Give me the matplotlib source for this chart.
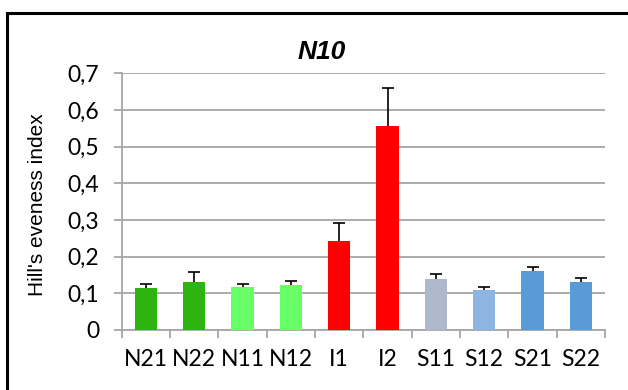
import matplotlib
matplotlib.use("Agg")
import matplotlib.pyplot as plt
from matplotlib.patches import Rectangle

# data
samples = ["N21", "N22", "N11", "N12", "I1", "I2", "S11", "S12", "S21", "S22"]
evenness = [0.115, 0.132, 0.117, 0.123, 0.244, 0.555, 0.139, 0.109, 0.161, 0.132]
err_up = [0.011, 0.026, 0.008, 0.010, 0.049, 0.104, 0.013, 0.009, 0.011, 0.009]
bar_colors = ["#2db40f", "#2db40f", "#66ff66", "#66ff66", "#ff0000", "#ff0000",
              "#adb9ca", "#8eb4e3", "#5b9bd5", "#5b9bd5"]
yticks = [0, 0.1, 0.2, 0.3, 0.4, 0.5, 0.6, 0.7]
ytick_labels = ["0", "0,1", "0,2", "0,3", "0,4", "0,5", "0,6", "0,7"]

W, H = 628, 390
fig = plt.figure(figsize=(W / 100, H / 100), dpi=100)
ax = fig.add_axes([121.7 / W, 1 - 330 / H, (605 - 121.7) / W, (330 - 73.3) / H])

x = list(range(len(samples)))
ax.bar(x, evenness, width=0.46, color=bar_colors, zorder=3)
eb = ax.errorbar(x, evenness, yerr=[[0] * len(err_up), err_up], fmt="none",
                 ecolor="black", elinewidth=1.2, capsize=4.5, capthick=1.2, zorder=4)
# only the upper whisker has a cap
eb[1][0].set_visible(False)

ax.set_xlim(-0.5, len(samples) - 0.5)
ax.set_ylim(0, 0.7)
ax.set_yticks(yticks)
ax.set_yticklabels(ytick_labels, family="Lato", fontsize=16.5)
ax.yaxis.grid(True, color="#a6a6a6", linewidth=1.3, zorder=0)

# x ticks sit on category boundaries, labels at centres
ax.set_xticks([i - 0.5 for i in range(len(samples) + 1)])
ax.set_xticklabels([])
ax.set_xticks(x, minor=True)
ax.set_xticklabels(samples, minor=True, family="Lato", fontsize=16.5)
ax.tick_params(axis="x", which="major", length=6, width=1.3, color="#a6a6a6", direction="out")
ax.tick_params(axis="x", which="minor", length=0, pad=14)
ax.tick_params(axis="y", length=6, width=1.3, color="#a6a6a6", pad=10)

for s in ["top", "right"]:
    ax.spines[s].set_visible(False)
for s in ["left", "bottom"]:
    ax.spines[s].set_color("#a6a6a6")
    ax.spines[s].set_linewidth(1.3)

fig.text(322 / W, 1 - 52 / H, "N10", ha="center", va="center", family="Liberation Sans",
         fontsize=19, fontweight="bold", style="italic")
fig.text(38 / W, 1 - 205 / H, "Hill's eveness index", ha="center", va="center",
         rotation=90, family="Liberation Sans", fontsize=15)

# outer chart frame (right and bottom edges fall outside the picture)
fig.patches.append(Rectangle((7 / W, -0.1), 1.2, 1.1 - 13 / H, transform=fig.transFigure,
                             fill=False, edgecolor="black", linewidth=2.2))

fig.savefig("out.png", dpi=100)
